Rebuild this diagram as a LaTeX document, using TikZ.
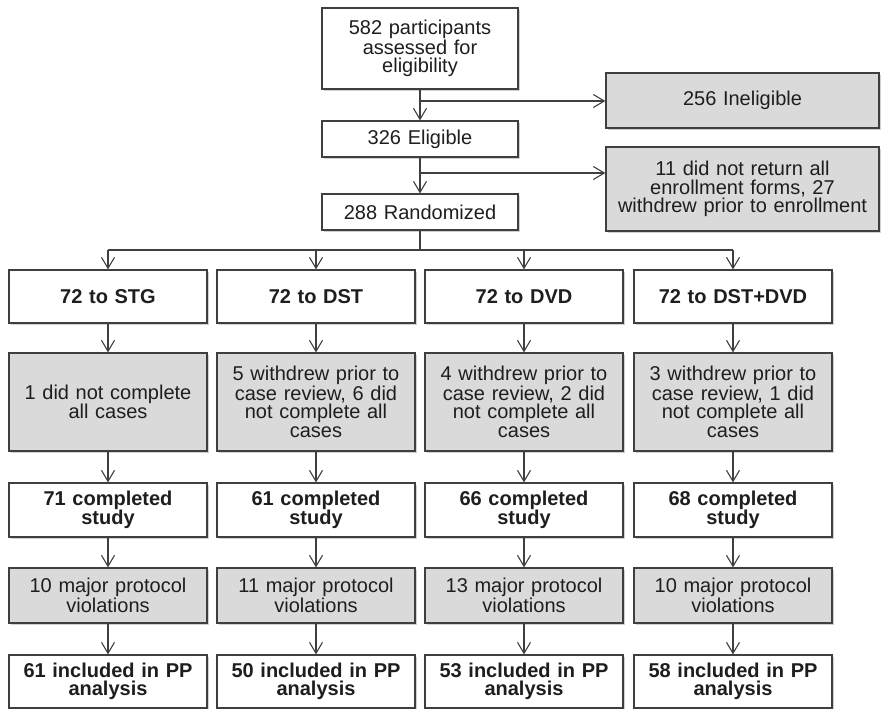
\documentclass[tikz,border=0pt]{standalone}
\usepackage{fontspec}
\setmainfont{Liberation Sans}
\usetikzlibrary{arrows.meta,shadows}
\definecolor{linec}{HTML}{3F3F3F}
\definecolor{grayfill}{HTML}{DADADA}
\definecolor{txt}{HTML}{1E1E1E}
\begin{document}
\begin{tikzpicture}[x=1pt,y=-1pt,
  box/.style={draw=linec, line width=1.2pt, fill=white, inner sep=0pt,
    align=center, text=txt, font=\fontsize{20}{18.5}\selectfont,
    drop shadow={shadow xshift=1.6pt, shadow yshift=-1.6pt, fill=black!40, opacity=0.45}},
  gbox/.style={box, fill=grayfill},
  bbox/.style={box, font=\fontsize{20}{18.5}\selectfont\bfseries},
  conn/.style={draw=linec, line width=1.2pt},
  arr/.style={conn, -{Straight Barb[length=11pt,width=13pt,line width=1.1pt]}}
]
\useasboundingbox (0,0) rectangle (881,709);

% top chain
\node[box, minimum width=196pt, minimum height=81pt, text width=190pt] (top) at (420,48.5) {582 participants\\assessed for\\eligibility};
\node[box, minimum width=196pt, minimum height=36pt, text width=190pt] (elig) at (420,139) {326 Eligible};
\node[box, minimum width=196pt, minimum height=36pt, text width=190pt] (rand) at (420,212) {288 Randomized};
\node[gbox, minimum width=273pt, minimum height=55pt, text width=268pt] (inel) at (742.5,100.5) {256 Ineligible};
\node[gbox, minimum width=273pt, minimum height=84pt, text width=268pt] (noret) at (742.5,189) {11 did not return all\\enrollment forms, 27\\withdrew prior to enrollment};

\coordinate (j1) at (420,101);
\coordinate (j2) at (420,173);
\coordinate (hb) at (0,250);

\draw[arr] (top) -- (elig);
\draw[arr] (elig) -- (rand);
\draw[arr] (j1) -- (inel.west |- j1);
\draw[arr] (j2) -- (noret.west |- j2);

% columns
\foreach \i/\cx/\ra/\rb/\rc/\rd/\re in {
  1/108/{72 to STG}/{1 did not complete\\all cases}/{71 completed\\study}/{10 major protocol\\violations}/{61 included in PP\\analysis},
  2/316/{72 to DST}/{5 withdrew prior to\\case review, 6 did\\not complete all\\cases}/{61 completed\\study}/{11 major protocol\\violations}/{50 included in PP\\analysis},
  3/524/{72 to DVD}/{4 withdrew prior to\\case review, 2 did\\not complete all\\cases}/{66 completed\\study}/{13 major protocol\\violations}/{53 included in PP\\analysis},
  4/733/{72 to DST+DVD}/{3 withdrew prior to\\case review, 1 did\\not complete all\\cases}/{68 completed\\study}/{10 major protocol\\violations}/{58 included in PP\\analysis}}{
  \node[bbox, minimum width=198pt, minimum height=53pt, text width=192pt] (a\i) at (\cx,296.5) {\ra};
  \node[gbox, minimum width=198pt, minimum height=98pt, text width=192pt] (b\i) at (\cx,402) {\rb};
  \node[bbox, minimum width=198pt, minimum height=54pt, text width=192pt] (c\i) at (\cx,510) {\rc};
  \node[gbox, minimum width=198pt, minimum height=55pt, text width=192pt] (d\i) at (\cx,595.5) {\rd};
  \node[bbox, minimum width=198pt, minimum height=53pt, text width=192pt] (e\i) at (\cx,681.5) {\re};
  \draw[arr] (a\i) -- (b\i);
  \draw[arr] (b\i) -- (c\i);
  \draw[arr] (c\i) -- (d\i);
  \draw[arr] (d\i) -- (e\i);
}

\draw[conn] (rand) -- (rand |- hb);
\draw[conn] (a1 |- hb) -- (a4 |- hb);
\foreach \i in {1,2,3,4}{
  \draw[arr] (a\i |- hb) -- (a\i);
}
\end{tikzpicture}
\end{document}
